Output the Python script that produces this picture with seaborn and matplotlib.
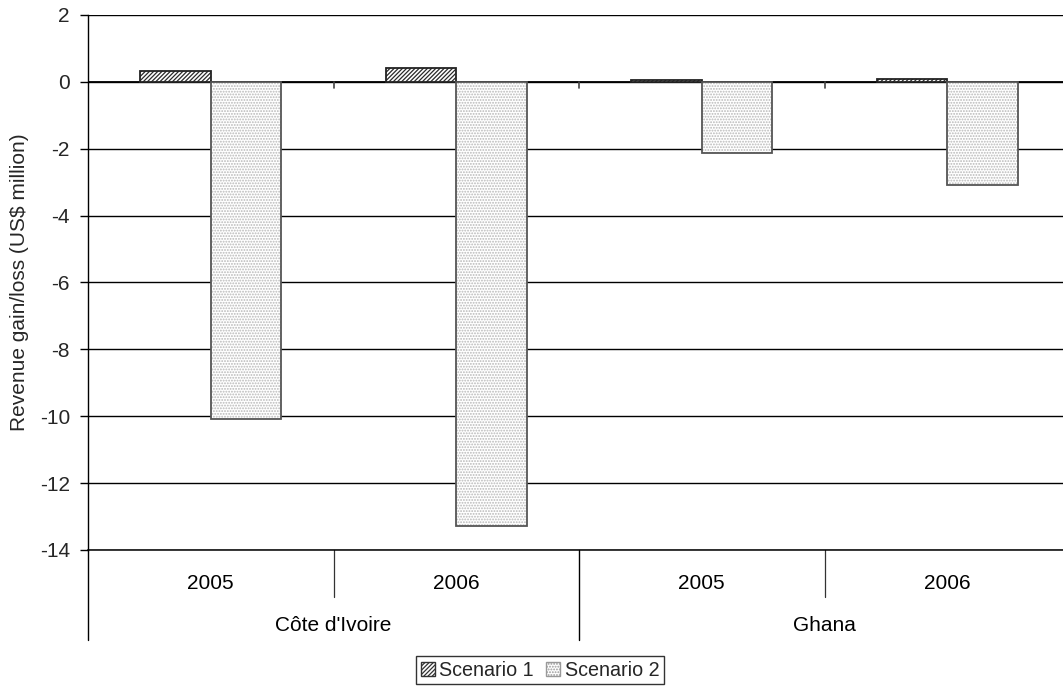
import matplotlib
matplotlib.use("Agg")
import matplotlib.pyplot as plt
import matplotlib.patches as mpatches
import matplotlib.transforms as mtransforms
import seaborn as sns
import pandas as pd

# Revenue gain/loss by country, year and scenario (US$ million)
countries = ["Côte d'Ivoire", "Côte d'Ivoire", "Ghana", "Ghana"]
years = ["2005", "2006", "2005", "2006"]
scenario_1 = [0.31, 0.41, 0.06, 0.09]
scenario_2 = [-10.08, -13.28, -2.14, -3.09]
series_names = ["Scenario 1", "Scenario 2"]
y_ticks = [2, 0, -2, -4, -6, -8, -10, -12, -14]
y_label = "Revenue gain/loss (US$ million)"

keys = [f"{c}|{y}" for c, y in zip(countries, years)]
df = pd.DataFrame({
    "key": keys * 2,
    "series": [series_names[0]] * 4 + [series_names[1]] * 4,
    "value": scenario_1 + scenario_2,
})

sns.set_theme(style="white")
plt.rcParams["font.family"] = ["Liberation Sans", "DejaVu Sans"]
plt.rcParams["hatch.linewidth"] = 0.9

FS = 15

fig = plt.figure(figsize=(10.63, 6.86), dpi=100)
ax = fig.add_axes([0.0828, 0.1983, 0.9238, 0.7799])

sns.barplot(data=df, x="key", y="value", hue="series", order=keys,
            hue_order=series_names, width=0.575, ax=ax, legend=False,
            errorbar=None, zorder=3)

styles = [
    dict(face="white", hatch="////////", hatch_col="#2a2a2a", edge="#222222"),
    dict(face="white", hatch="......", hatch_col="#b8b8b8", edge="#555555"),
]
for cont, st in zip(ax.containers, styles):
    for p in cont:
        p.set_facecolor(st["face"])
        p.set_hatch(st["hatch"])
        p.set_edgecolor(st["hatch_col"])
        p.set_linewidth(0)
        outline = mpatches.Rectangle(p.get_xy(), p.get_width(), p.get_height(),
                                     fill=False, edgecolor=st["edge"],
                                     linewidth=1.3, zorder=4)
        ax.add_patch(outline)

ax.set_ylim(-14, 2)
ax.set_xlim(-0.5, 3.5)
ax.set_yticks(y_ticks)
ax.set_yticklabels([str(t) for t in y_ticks], fontsize=FS)
ax.yaxis.grid(True, color="black", linewidth=1.0, zorder=0)
ax.set_axisbelow(True)
ax.axhline(0, color="black", linewidth=1.3, zorder=2)
ax.tick_params(axis="y", direction="out", length=6, width=1, color="black",
               left=True, pad=7)
ax.set_ylabel(y_label, fontsize=FS, labelpad=8)
ax.set_xlabel("")

for side in ["top", "right"]:
    ax.spines[side].set_visible(False)
ax.spines["left"].set_color("black")
ax.spines["left"].set_linewidth(1.0)
ax.spines["bottom"].set_color("black")
ax.spines["bottom"].set_linewidth(1.1)

# two-level category axis: years on the first row, countries on the second
ax.set_xticks([])
trans = mtransforms.blended_transform_factory(ax.transData, ax.transAxes)
for i, yr in enumerate(years):
    ax.text(i, -0.062, yr, transform=trans, ha="center", va="center",
            fontsize=FS, color="black")
group_centers = {}
for i, c in enumerate(countries):
    group_centers.setdefault(c, []).append(i)
for c, idx in group_centers.items():
    ax.text(sum(idx) / len(idx), -0.142, c, transform=trans, ha="center",
            va="center", fontsize=FS, color="black")

for b in [0.5, 2.5]:
    ax.plot([b, b], [0, -0.088], transform=trans, color="#333333",
            linewidth=0.9, clip_on=False)
for b in [-0.5, 1.5]:
    ax.plot([b, b], [0, -0.168], transform=trans, color="black",
            linewidth=1.0, clip_on=False)
# small ticks where the category axis crosses zero
for b in [0.5, 1.5, 2.5]:
    ax.plot([b, b], [0, -0.18], color="#444444", linewidth=1.2, zorder=2)

handles = [
    mpatches.Patch(facecolor="white", hatch="////////", edgecolor="#333333",
                   label=series_names[0]),
    mpatches.Patch(facecolor="white", hatch="......", edgecolor="#999999",
                   label=series_names[1]),
]
fig.legend(handles=handles, loc="center", bbox_to_anchor=(540 / 1063, 1 - 670 / 686),
           ncol=2, fontsize=14.2, frameon=True, fancybox=False,
           edgecolor="black", handlelength=0.7, handleheight=0.7,
           handletextpad=0.25, columnspacing=0.6, borderpad=0.25,
           borderaxespad=0)

fig.savefig("out.png", dpi=100, facecolor="white")
